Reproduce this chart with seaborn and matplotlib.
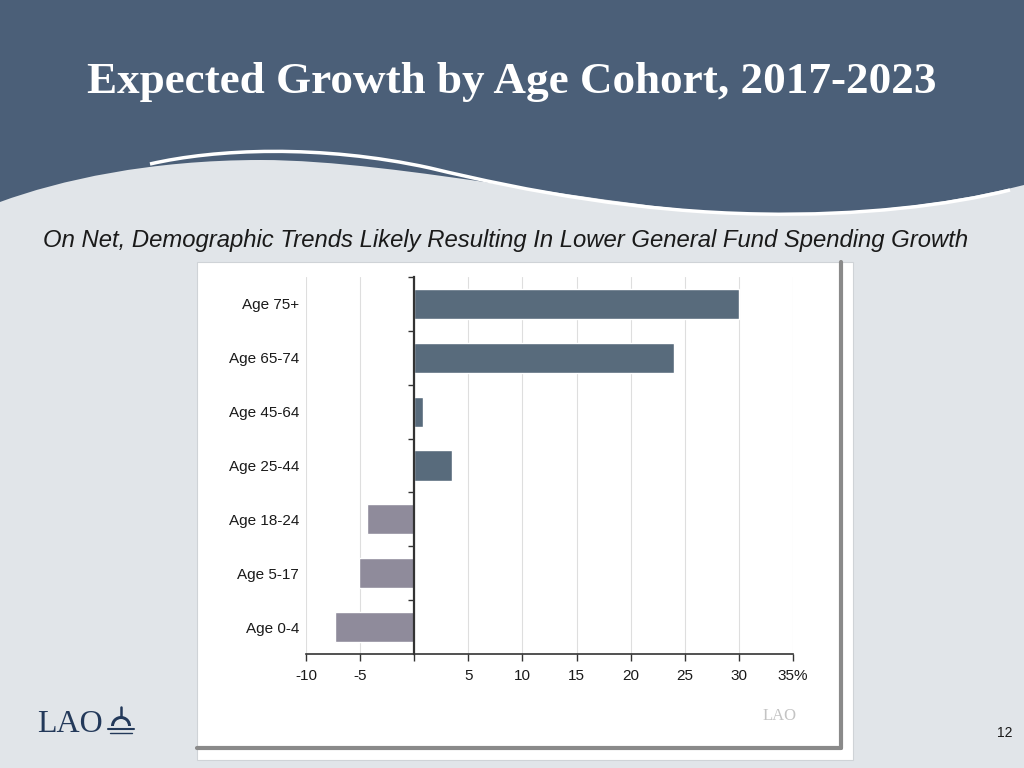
import numpy as np
import pandas as pd
import matplotlib
matplotlib.use('Agg')
import matplotlib.pyplot as plt
import seaborn as sns
from matplotlib.path import Path
from matplotlib.patches import PathPatch, Rectangle, Wedge

# values
cohorts = ['Age 75+', 'Age 65-74', 'Age 45-64', 'Age 25-44', 'Age 18-24', 'Age 5-17', 'Age 0-4']
growth = [30.0, 24.0, 0.8, 3.5, -4.4, -5.1, -7.3]
x_ticks = [-10, -5, 0, 5, 10, 15, 20, 25, 30, 35]
x_labels = ['-10', '-5', '', '5', '10', '15', '20', '25', '30', '35%']

df = pd.DataFrame({'cohort': cohorts, 'growth': growth})
df['sign'] = np.where(df.growth >= 0, 'up', 'down')

sns.set_theme(style='white')
plt.rcParams['font.family'] = ['Liberation Sans', 'DejaVu Sans']

fig = plt.figure(figsize=(10.24, 7.68), dpi=100)
fig.patch.set_facecolor('#e1e5e9')

# slide background drawn in pixel coords
bg = fig.add_axes([0, 0, 1, 1], zorder=0)
bg.set_xlim(0, 1024)
bg.set_ylim(768, 0)
bg.axis('off')

header = Path(
    [(0, 0), (1024, 0), (1024, 185),
     (940, 206), (850, 216), (740, 213),
     (620, 210), (400, 160), (261, 160),
     (150, 160), (60, 180), (0, 202),
     (0, 0)],
    [Path.MOVETO, Path.LINETO, Path.LINETO,
     Path.CURVE4, Path.CURVE4, Path.CURVE4,
     Path.CURVE4, Path.CURVE4, Path.CURVE4,
     Path.CURVE4, Path.CURVE4, Path.CURVE4,
     Path.CLOSEPOLY])
bg.add_patch(PathPatch(header, facecolor='#4b5f78', edgecolor='none'))

swoosh = Path(
    [(150, 164), (215, 149), (320, 144), (430, 168),
     (530, 192), (640, 212), (760, 214),
     (860, 216), (950, 205), (1010, 190)],
    [Path.MOVETO, Path.CURVE4, Path.CURVE4, Path.CURVE4,
     Path.CURVE4, Path.CURVE4, Path.CURVE4,
     Path.CURVE4, Path.CURVE4, Path.CURVE4])
bg.add_patch(PathPatch(swoosh, facecolor='none', edgecolor='white', lw=2.5))

# chart panel with shadow
bg.add_patch(Rectangle((197, 262), 656, 498, facecolor='white', edgecolor='#cfd3d7', lw=0.8))
bg.plot([841, 841], [262, 748], color='#8a8a8a', lw=3)
bg.plot([197, 841], [748, 748], color='#8a8a8a', lw=3)

# LAO logo dome
bg.add_patch(Wedge((121, 726), 10, 180, 360, facecolor='#23395a', edgecolor='none'))
bg.add_patch(Wedge((121, 726), 7, 180, 360, facecolor='#e1e5e9', edgecolor='none'))
bg.plot([108, 134], [729, 729], color='#23395a', lw=1.5)
bg.plot([110, 132], [733, 733], color='#23395a', lw=1)
bg.plot([121, 121], [707, 716], color='#23395a', lw=1.8)

ax = fig.add_axes([306 / 1024, 1 - 654 / 768, 487 / 1024, 377 / 768], zorder=2)
ax.patch.set_alpha(0)
sns.barplot(data=df, y='cohort', x='growth', hue='sign',
            palette={'up': '#586b7c', 'down': '#8f8b9b'},
            dodge=False, width=0.56, saturation=1, legend=False, ax=ax)

ax.set_xlim(-10, 35)
ax.set_ylim(6.5, -0.5)
ax.set_xticks(x_ticks)
ax.set_xticklabels(x_labels)
ax.xaxis.grid(True, color='#dedede', lw=0.8)
ax.set_axisbelow(True)
ax.set_xlabel('')
ax.set_ylabel('')

for s in ['top', 'right']:
    ax.spines[s].set_visible(False)
ax.spines['left'].set_position(('data', 0))
ax.spines['left'].set_color('#333333')
ax.spines['left'].set_linewidth(1.6)
ax.spines['bottom'].set_color('#333333')
ax.spines['bottom'].set_linewidth(1.2)

ax.tick_params(axis='x', direction='out', length=5, width=1, color='#333333',
               labelsize=11, labelcolor='#1a1a1a', pad=6, bottom=True)
ax.set_yticks(np.arange(-0.5, 6, 1), minor=True)
ax.tick_params(axis='y', which='minor', direction='out', length=4, width=1,
               color='#333333', left=True)
ax.tick_params(axis='y', which='major', length=0, labelsize=11,
               labelcolor='#1a1a1a', pad=83)

fig.text(0.5, 1 - 93 / 768, 'Expected Growth by Age Cohort, 2017-2023',
         family=['Liberation Serif'], weight='bold', size=32.5, color='white',
         ha='center', va='baseline')
fig.text(506 / 1024, 1 - 247 / 768,
         'On Net, Demographic Trends Likely Resulting In Lower General Fund Spending Growth',
         style='italic', size=17.2, color='#1a1a1a', ha='center', va='baseline')
fig.text(37 / 1024, 1 - 732 / 768, 'LAO', family=['Liberation Serif'], size=23,
         color='#23395a', ha='left', va='baseline')
fig.text(763 / 1024, 1 - 716 / 768, 'LAO', family=['Liberation Serif'], size=12,
         color='#c4c4c4', ha='left', va='center')
fig.text(1005 / 1024, 1 - 733 / 768, '12', size=10, color='#1a1a1a',
         ha='center', va='center')

fig.savefig('out.png', dpi=100, facecolor=fig.get_facecolor())
